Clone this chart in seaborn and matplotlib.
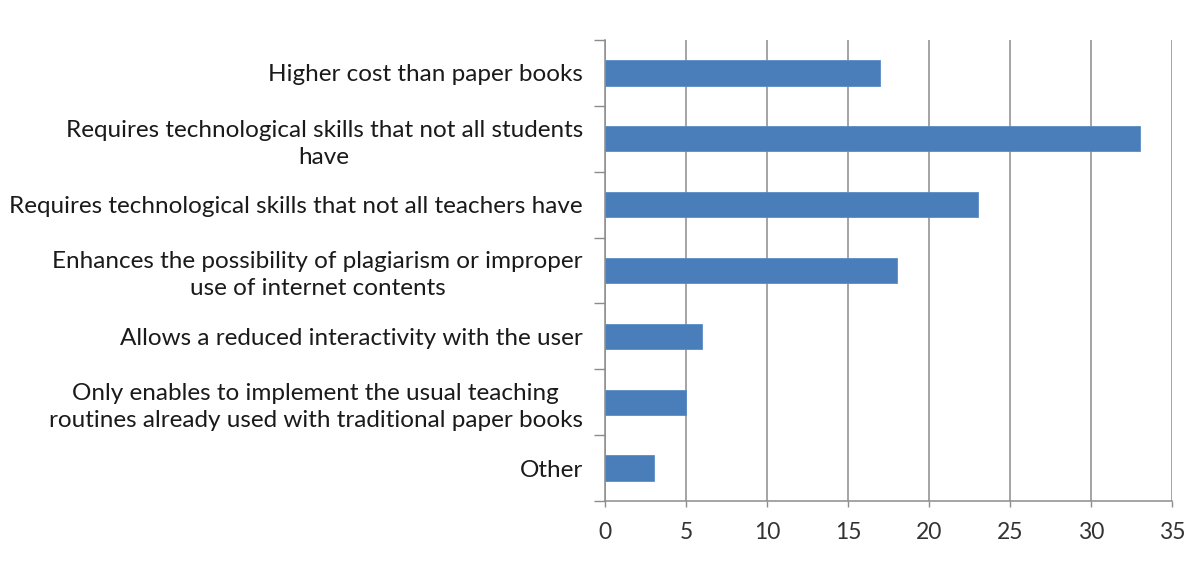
import matplotlib
matplotlib.use("Agg")
import matplotlib.pyplot as plt
import seaborn as sns
import pandas as pd
from matplotlib.ticker import FixedLocator

categories = [
    "Higher cost than paper books",
    "Requires technological skills that not all students\nhave",
    "Requires technological skills that not all teachers have",
    "Enhances the possibility of plagiarism or improper\nuse of internet contents",
    "Allows a reduced interactivity with the user",
    "Only enables to implement the usual teaching\nroutines already used with traditional paper books",
    "Other",
]
values = [17, 33, 23, 18, 6, 5, 3]
x_ticks = [0, 5, 10, 15, 20, 25, 30, 35]

sns.set_theme(style="white")
plt.rcParams['font.family'] = ['Lato', 'DejaVu Sans']

df = pd.DataFrame({"category": categories, "value": values})

fig = plt.figure(figsize=(11.87, 5.75), dpi=100)
ax = fig.add_axes([605/1187, 1 - 501/575, (1172 - 605)/1187, (501 - 40)/575])

sns.barplot(data=df, y="category", x="value", orient="h", color="#4A7EBB",
            saturation=1, width=0.385, edgecolor="#5A8CC6", linewidth=0.6, ax=ax)

ax.set_xlim(0, 35)
ax.set_ylim(len(categories) - 0.5, -0.5)
ax.set_xticks(x_ticks)
ax.set_xticklabels([str(t) for t in x_ticks], fontsize=16.5, color="#333333")
ax.xaxis.grid(True, color="#8c8c8c", linewidth=1.1)
ax.set_axisbelow(True)

ax.set_yticks(range(len(categories)))
ax.set_yticklabels(categories, fontsize=17.5, color="#1a1a1a",
                   multialignment="center", linespacing=1.35)
ax.tick_params(axis="y", which="major", length=0, pad=16)
ax.yaxis.set_minor_locator(FixedLocator([i - 0.5 for i in range(len(categories) + 1)]))
ax.tick_params(axis="y", which="minor", length=8, width=1, color="#8c8c8c", left=True)
ax.tick_params(axis="x", which="major", length=4, width=1, color="#8c8c8c", pad=11, bottom=True)

for s in ["top", "right"]:
    ax.spines[s].set_visible(False)
for s in ["left", "bottom"]:
    ax.spines[s].set_color("#8c8c8c")
    ax.spines[s].set_linewidth(1.1)

ax.set_xlabel("")
ax.set_ylabel("")

fig.savefig("out.png", dpi=100)
